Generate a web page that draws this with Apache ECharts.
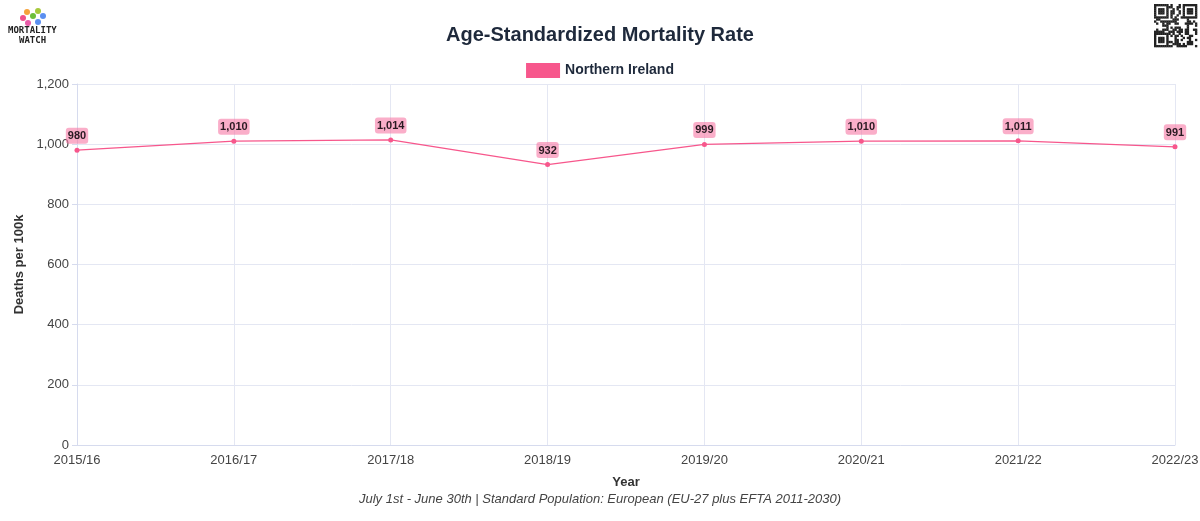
<!DOCTYPE html>
<html><head><meta charset="utf-8">
<script src="https://cdn.jsdelivr.net/npm/echarts@6/dist/echarts.min.js"></script>
<style>html,body{margin:0;padding:0;background:#fff}#c{width:1200px;height:521px}</style>
</head><body><div id="c"></div>
<script>
const categories = ['2015/16','2016/17','2017/18','2018/19','2019/20','2020/21','2021/22','2022/23'];
const asmrValues = [980, 1010, 1014, 932, 999, 1010, 1011, 991];
const seriesName = 'Northern Ireland';
const yTicks = [0, 200, 400, 600, 800, 1000, 1200];

const chart = echarts.init(document.getElementById('c'));
const pink = '#f7578c';
const fontFam = '"Liberation Sans", Arial, Helvetica, sans-serif';
const fmt = v => v.toLocaleString('en-US');

// QR-like decoration
const qr = [];
const qx = 1154, qy = 4, qs = 43, n = 21, cell = qs / n;
let seed = 7;
function rnd(){ seed = (seed * 9301 + 49297) % 233280; return seed / 233280; }
for (let i = 0; i < n; i++) for (let j = 0; j < n; j++) {
  const inFinder = (a,b)=> (i>=a && i<a+7 && j>=b && j<b+7);
  let on;
  if (inFinder(0,0)||inFinder(0,n-7)||inFinder(n-7,0)) {
    const a = inFinder(0,0)?[0,0]:inFinder(0,n-7)?[0,n-7]:[n-7,0];
    const di=i-a[0], dj=j-a[1];
    on = (di===0||di===6||dj===0||dj===6) || (di>=2&&di<=4&&dj>=2&&dj<=4);
  } else on = rnd() > 0.5;
  if (on) qr.push({type:'rect', shape:{x:qx+j*cell, y:qy+i*cell, width:cell+0.3, height:cell+0.3}, style:{fill:'#222'}, silent:true});
}

chart.setOption({
  backgroundColor: '#fff',
  textStyle: { fontFamily: fontFam },
  title: {
    text: 'Age-Standardized Mortality Rate',
    left: 'center', top: 20,
    textStyle: { fontSize: 20, fontWeight: 'bold', color: '#1e293b', fontFamily: fontFam }
  },
  legend: {
    top: 58, left: 'center',
    itemWidth: 34, itemHeight: 15, icon: 'rect',
    textStyle: { fontSize: 14, fontWeight: 'bold', color: '#1e293b' },
    data: [{ name: seriesName, icon: 'rect', itemStyle: { color: pink } }]
  },
  grid: { left: 77, right: 25, top: 84, bottom: 76, containLabel: false, outerBoundsMode: 'none' },
  xAxis: {
    type: 'category', data: categories, boundaryGap: false,
    name: 'Year', nameLocation: 'middle', nameGap: 31,
    nameTextStyle: { fontSize: 13, fontWeight: 'bold', color: '#333' },
    axisLine: { lineStyle: { color: '#d6dbee' } },
    axisTick: { show: false },
    axisLabel: { color: '#444', fontSize: 13, margin: 9 },
    splitLine: { show: true, lineStyle: { color: '#e4e7f3' } }
  },
  yAxis: {
    type: 'value', min: 0, max: 1200, interval: 200,
    name: 'Deaths per 100k', nameLocation: 'middle', nameGap: 47,
    nameTextStyle: { fontSize: 13, fontWeight: 'bold', color: '#333' },
    axisLine: { show: true, lineStyle: { color: '#d6dbee' } },
    axisTick: { show: true, length: 5, lineStyle: { color: '#d6dbee' } },
    axisLabel: { color: '#444', fontSize: 13, formatter: v => fmt(v) },
    splitLine: { lineStyle: { color: '#e4e7f3' } }
  },
  series: [{
    name: seriesName, type: 'line', data: asmrValues,
    color: pink,
    lineStyle: { width: 1.2, color: pink },
    symbol: 'circle', symbolSize: 5,
    itemStyle: { color: pink },
    label: {
      show: true, position: 'top', distance: 4,
      formatter: p => fmt(p.value),
      fontSize: 11, fontWeight: 'bold', color: '#2a1a22',
      backgroundColor: 'rgba(247,120,165,0.6)', borderRadius: 3,
      padding: [3, 2, 2, 2]
    }
  }],
  graphic: [
    { type:'circle', shape:{cx:23,cy:18,r:3}, style:{fill:'#f0508a'} },
    { type:'circle', shape:{cx:27,cy:12,r:3}, style:{fill:'#f6a23b'} },
    { type:'circle', shape:{cx:33,cy:16,r:3}, style:{fill:'#6cbf3b'} },
    { type:'circle', shape:{cx:38,cy:11,r:3}, style:{fill:'#a6c93a'} },
    { type:'circle', shape:{cx:43,cy:16,r:3}, style:{fill:'#5b8ff0'} },
    { type:'circle', shape:{cx:38,cy:22,r:3}, style:{fill:'#5b8ff0'} },
    { type:'circle', shape:{cx:28,cy:23,r:3}, style:{fill:'#e85ba8'} },
    { type:'text', left: 8, top: 26, style:{ text:'MORTALITY', font:'bold 9px "DejaVu Sans Mono", monospace', fill:'#222' } },
    { type:'text', left: 19, top: 36, style:{ text:'WATCH', font:'bold 9px "DejaVu Sans Mono", monospace', fill:'#222' } },
    ...qr,
    { type:'text', left:'center', top: 493, style:{ text:'July 1st - June 30th | Standard Population: European (EU-27 plus EFTA 2011-2030)', font:'italic 13px ' + fontFam, fill:'#444' } }
  ]
});
</script></body></html>
